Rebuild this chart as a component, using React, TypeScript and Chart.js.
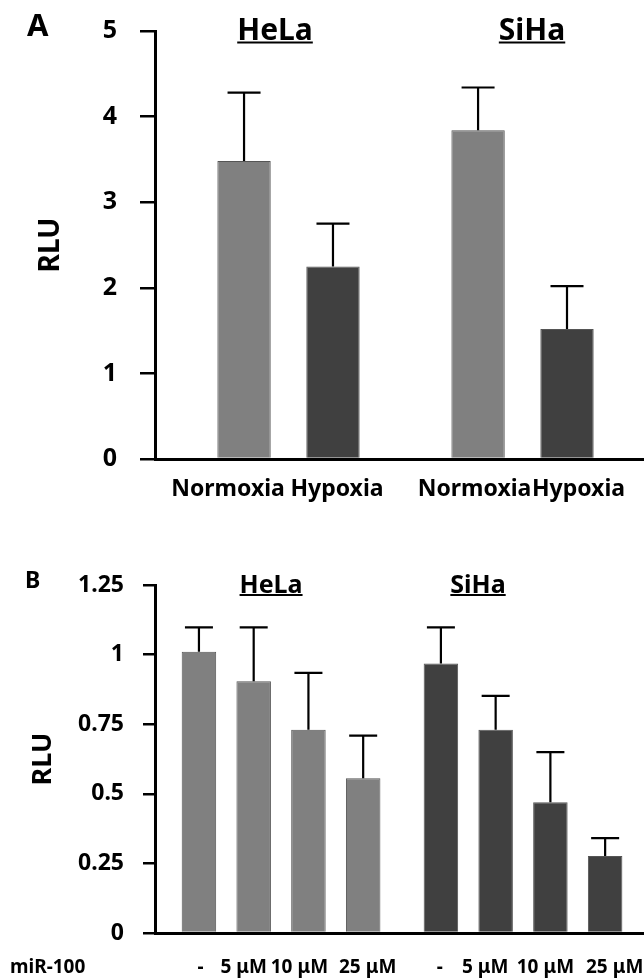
import React, { useEffect, useRef } from 'react';
import { Chart, registerables } from 'chart.js';

Chart.register(...registerables);

const FONT = '"Noto Sans", "DejaVu Sans", sans-serif';

// ---------- Panel A data ----------
const groupsA = ['HeLa', 'SiHa'];
const conditionsA = ['Normoxia', 'Hypoxia'];
const normoxiaA = [3.48, 3.84];
const hypoxiaA = [2.25, 1.52];
const normoxiaErrA = [0.8, 0.5];
const hypoxiaErrA = [0.5, 0.5];
const yTicksA = [0, 1, 2, 3, 4, 5];

// ---------- Panel B data ----------
const groupsB = ['HeLa', 'SiHa'];
const dosesB = ['-', '5 μM', '10 μM', '25 μM'];
const helaB = [1.01, 0.904, 0.73, 0.556];
const sihaB = [0.968, 0.73, 0.47, 0.277];
const helaErrB = [0.088, 0.194, 0.204, 0.153];
const sihaErrB = [0.13, 0.122, 0.18, 0.064];
const yTicksB = [0, 0.25, 0.5, 0.75, 1, 1.25];
const rowLabelB = 'miR-100';

const LIGHT = '#808080';
const DARK = '#404040';
const EDGE = '#555555';

type DecorCfg = {
  errors: number[][];
  cap: number;
  errWidth: number;
  labels: string[];
  labelShift?: number[][];
  labelY: number;
  labelFont: string;
  rowLabel?: string;
  rowLabelX?: number;
  groups: string[];
  groupOffsets: number[];
  titleBaseline: number;
  titleFont: string;
  underline: number;
  letter: string;
  letterX: number;
  letterBaseline: number;
  letterFont: string;
};

function makeDecor(cfg: DecorCfg) {
  return {
    id: 'decor',
    afterDraw(chart: any) {
      const ctx = chart.ctx as CanvasRenderingContext2D;
      const xs = chart.scales.x;
      const ys = chart.scales.y;
      ctx.save();
      // error bars
      ctx.strokeStyle = '#000';
      ctx.lineWidth = cfg.errWidth;
      chart.data.datasets.forEach((ds: any, i: number) => {
        const meta = chart.getDatasetMeta(i);
        meta.data.forEach((bar: any, j: number) => {
          const v = ds.data[j].y;
          const e = cfg.errors[i][j];
          const top = ys.getPixelForValue(v + e);
          ctx.beginPath();
          ctx.moveTo(bar.x, bar.y);
          ctx.lineTo(bar.x, top);
          ctx.moveTo(bar.x - cfg.cap / 2, top);
          ctx.lineTo(bar.x + cfg.cap / 2, top);
          ctx.stroke();
        });
      });
      // category labels under each bar
      ctx.fillStyle = '#000';
      ctx.font = cfg.labelFont;
      ctx.textAlign = 'center';
      ctx.textBaseline = 'middle';
      chart.data.datasets.forEach((_ds: any, i: number) => {
        const meta = chart.getDatasetMeta(i);
        meta.data.forEach((bar: any, j: number) => {
          const shift = cfg.labelShift ? cfg.labelShift[i][j] : 0;
          ctx.fillText(cfg.labels[i], bar.x + shift, cfg.labelY);
        });
      });
      if (cfg.rowLabel) {
        ctx.textAlign = 'left';
        ctx.fillText(cfg.rowLabel, cfg.rowLabelX || 0, cfg.labelY);
      }
      // group titles (underlined)
      ctx.font = cfg.titleFont;
      ctx.textAlign = 'center';
      ctx.textBaseline = 'alphabetic';
      cfg.groups.forEach((g, j) => {
        const cx = xs.getPixelForValue(j) + cfg.groupOffsets[j];
        ctx.fillText(g, cx, cfg.titleBaseline);
        const w = ctx.measureText(g).width;
        ctx.lineWidth = 2;
        ctx.beginPath();
        ctx.moveTo(cx - w / 2, cfg.titleBaseline + cfg.underline);
        ctx.lineTo(cx + w / 2, cfg.titleBaseline + cfg.underline);
        ctx.stroke();
      });
      // panel letter
      ctx.font = cfg.letterFont;
      ctx.textAlign = 'left';
      ctx.fillText(cfg.letter, cfg.letterX, cfg.letterBaseline);
      ctx.restore();
    },
  };
}

function makeOptions(p: {
  ticks: number[];
  tickFont: number;
  tickLength: number;
  tickPad: number;
  titleSize: number;
  titlePad: number;
  axisWidth: number;
  xHeight: number;
  padTop: number;
  xMin: number;
  xMax: number;
}) {
  return {
    responsive: false,
    animation: false as const,
    layout: { padding: { top: p.padTop, left: 0, right: 0, bottom: 0 } },
    plugins: { legend: { display: false }, tooltip: { enabled: false } },
    scales: {
      x: {
        type: 'linear' as const,
        min: p.xMin,
        max: p.xMax,
        offset: false,
        grid: { display: false, offset: false },
        border: { display: true, color: '#000', width: 3 },
        ticks: { display: false },
        afterBuildTicks: (s: any) => {
          s.ticks = [{ value: 0 }, { value: 1 }];
        },
        afterFit: (s: any) => {
          s.height = p.xHeight;
          s.paddingLeft = 0;
          s.paddingRight = 0;
        },
      },
      y: {
        min: p.ticks[0],
        max: p.ticks[p.ticks.length - 1],
        afterBuildTicks: (s: any) => {
          s.ticks = p.ticks.map((v) => ({ value: v }));
        },
        afterFit: (s: any) => {
          s.width = 155;
          s.paddingTop = 0;
          s.paddingBottom = 0;
        },
        grid: {
          drawOnChartArea: false,
          drawTicks: true,
          tickLength: p.tickLength,
          color: '#000',
          lineWidth: 2.5,
        },
        border: { display: true, color: '#000', width: p.axisWidth },
        ticks: {
          color: '#000',
          padding: p.tickPad,
          font: { family: FONT, size: p.tickFont, weight: 'bold' as const },
          callback: (v: any) => String(v),
        },
        title: {
          display: true,
          text: 'RLU',
          color: '#000',
          font: { family: FONT, size: p.titleSize, weight: 'bold' as const },
          padding: { top: p.titlePad, bottom: 0 },
        },
      },
    },
  };
}

export default function App() {
  const refA = useRef<HTMLCanvasElement | null>(null);
  const refB = useRef<HTMLCanvasElement | null>(null);

  useEffect(() => {
    const chartA = new Chart(refA.current as HTMLCanvasElement, {
      type: 'bar',
      data: {
        datasets: [
          {
            label: conditionsA[0],
            data: normoxiaA.map((v, j) => ({ x: j, y: v })),
            backgroundColor: LIGHT,
            borderColor: EDGE,
            borderWidth: 1,
            categoryPercentage: 0.76,
            barPercentage: 0.6,
          },
          {
            label: conditionsA[1],
            data: hypoxiaA.map((v, j) => ({ x: j, y: v })),
            backgroundColor: DARK,
            borderColor: EDGE,
            borderWidth: 1,
            categoryPercentage: 0.76,
            barPercentage: 0.6,
          },
        ],
      } as any,
      options: makeOptions({
        ticks: yTicksA,
        tickFont: 25,
        tickLength: 15,
        tickPad: 23,
        titleSize: 28,
        titlePad: 34,
        axisWidth: 3,
        xHeight: 61,
        padTop: 31,
        xMin: -0.5705,
        xMax: 1.519,
      }) as any,
      plugins: [
        makeDecor({
          errors: [normoxiaErrA, hypoxiaErrA],
          cap: 33,
          errWidth: 2.2,
          labels: conditionsA,
          labelShift: [
            [-16, -3.5],
            [4, 11.5],
          ],
          labelY: 489,
          labelFont: `bold 23px ${FONT}`,
          groups: groupsA,
          groupOffsets: [-13.5, 9.5],
          titleBaseline: 40,
          titleFont: `bold 30px ${FONT}`,
          underline: 2.5,
          letter: 'A',
          letterX: 27,
          letterBaseline: 36,
          letterFont: `bold 31px ${FONT}`,
        }),
      ],
    });

    const chartB = new Chart(refB.current as HTMLCanvasElement, {
      type: 'bar',
      data: {
        datasets: dosesB.map((d, i) => ({
          label: d,
          data: [helaB[i], sihaB[i]].map((v, j) => ({ x: j, y: v })),
          backgroundColor: [LIGHT, DARK],
          borderColor: EDGE,
          borderWidth: 1,
          categoryPercentage: 0.905,
          barPercentage: 0.63,
        })),
      } as any,
      options: makeOptions({
        ticks: yTicksB,
        tickFont: 23,
        tickLength: 12,
        tickPad: 19,
        titleSize: 27,
        titlePad: 27,
        axisWidth: 3,
        xHeight: 46,
        padTop: 45,
        xMin: -0.521,
        xMax: 1.5,
      }) as any,
      plugins: [
        makeDecor({
          errors: dosesB.map((_d, i) => [helaErrB[i], sihaErrB[i]]),
          cap: 28,
          errWidth: 2.2,
          labels: dosesB,
          labelShift: [
            [1.5, -1],
            [-10, -10.5],
            [-9, -5],
            [4.5, 9.5],
          ],
          labelY: 428,
          labelFont: `bold 19px ${FONT}`,
          rowLabel: rowLabelB,
          rowLabelX: 10,
          groups: groupsB,
          groupOffsets: [-10, -45],
          titleBaseline: 53,
          titleFont: `bold 25px ${FONT}`,
          underline: 2,
          letter: 'B',
          letterX: 25,
          letterBaseline: 48,
          letterFont: `bold 23px ${FONT}`,
        }),
      ],
    });

    return () => {
      chartA.destroy();
      chartB.destroy();
    };
  }, []);

  return (
    <div style={{ position: 'absolute', left: 0, top: 0, width: 644, height: 979, background: '#fff' }}>
      <canvas
        ref={refA}
        width={644}
        height={520}
        style={{ position: 'absolute', left: 0, top: 0, width: 644, height: 520 }}
      />
      <canvas
        ref={refB}
        width={644}
        height={439}
        style={{ position: 'absolute', left: 0, top: 540, width: 644, height: 439 }}
      />
    </div>
  );
}
